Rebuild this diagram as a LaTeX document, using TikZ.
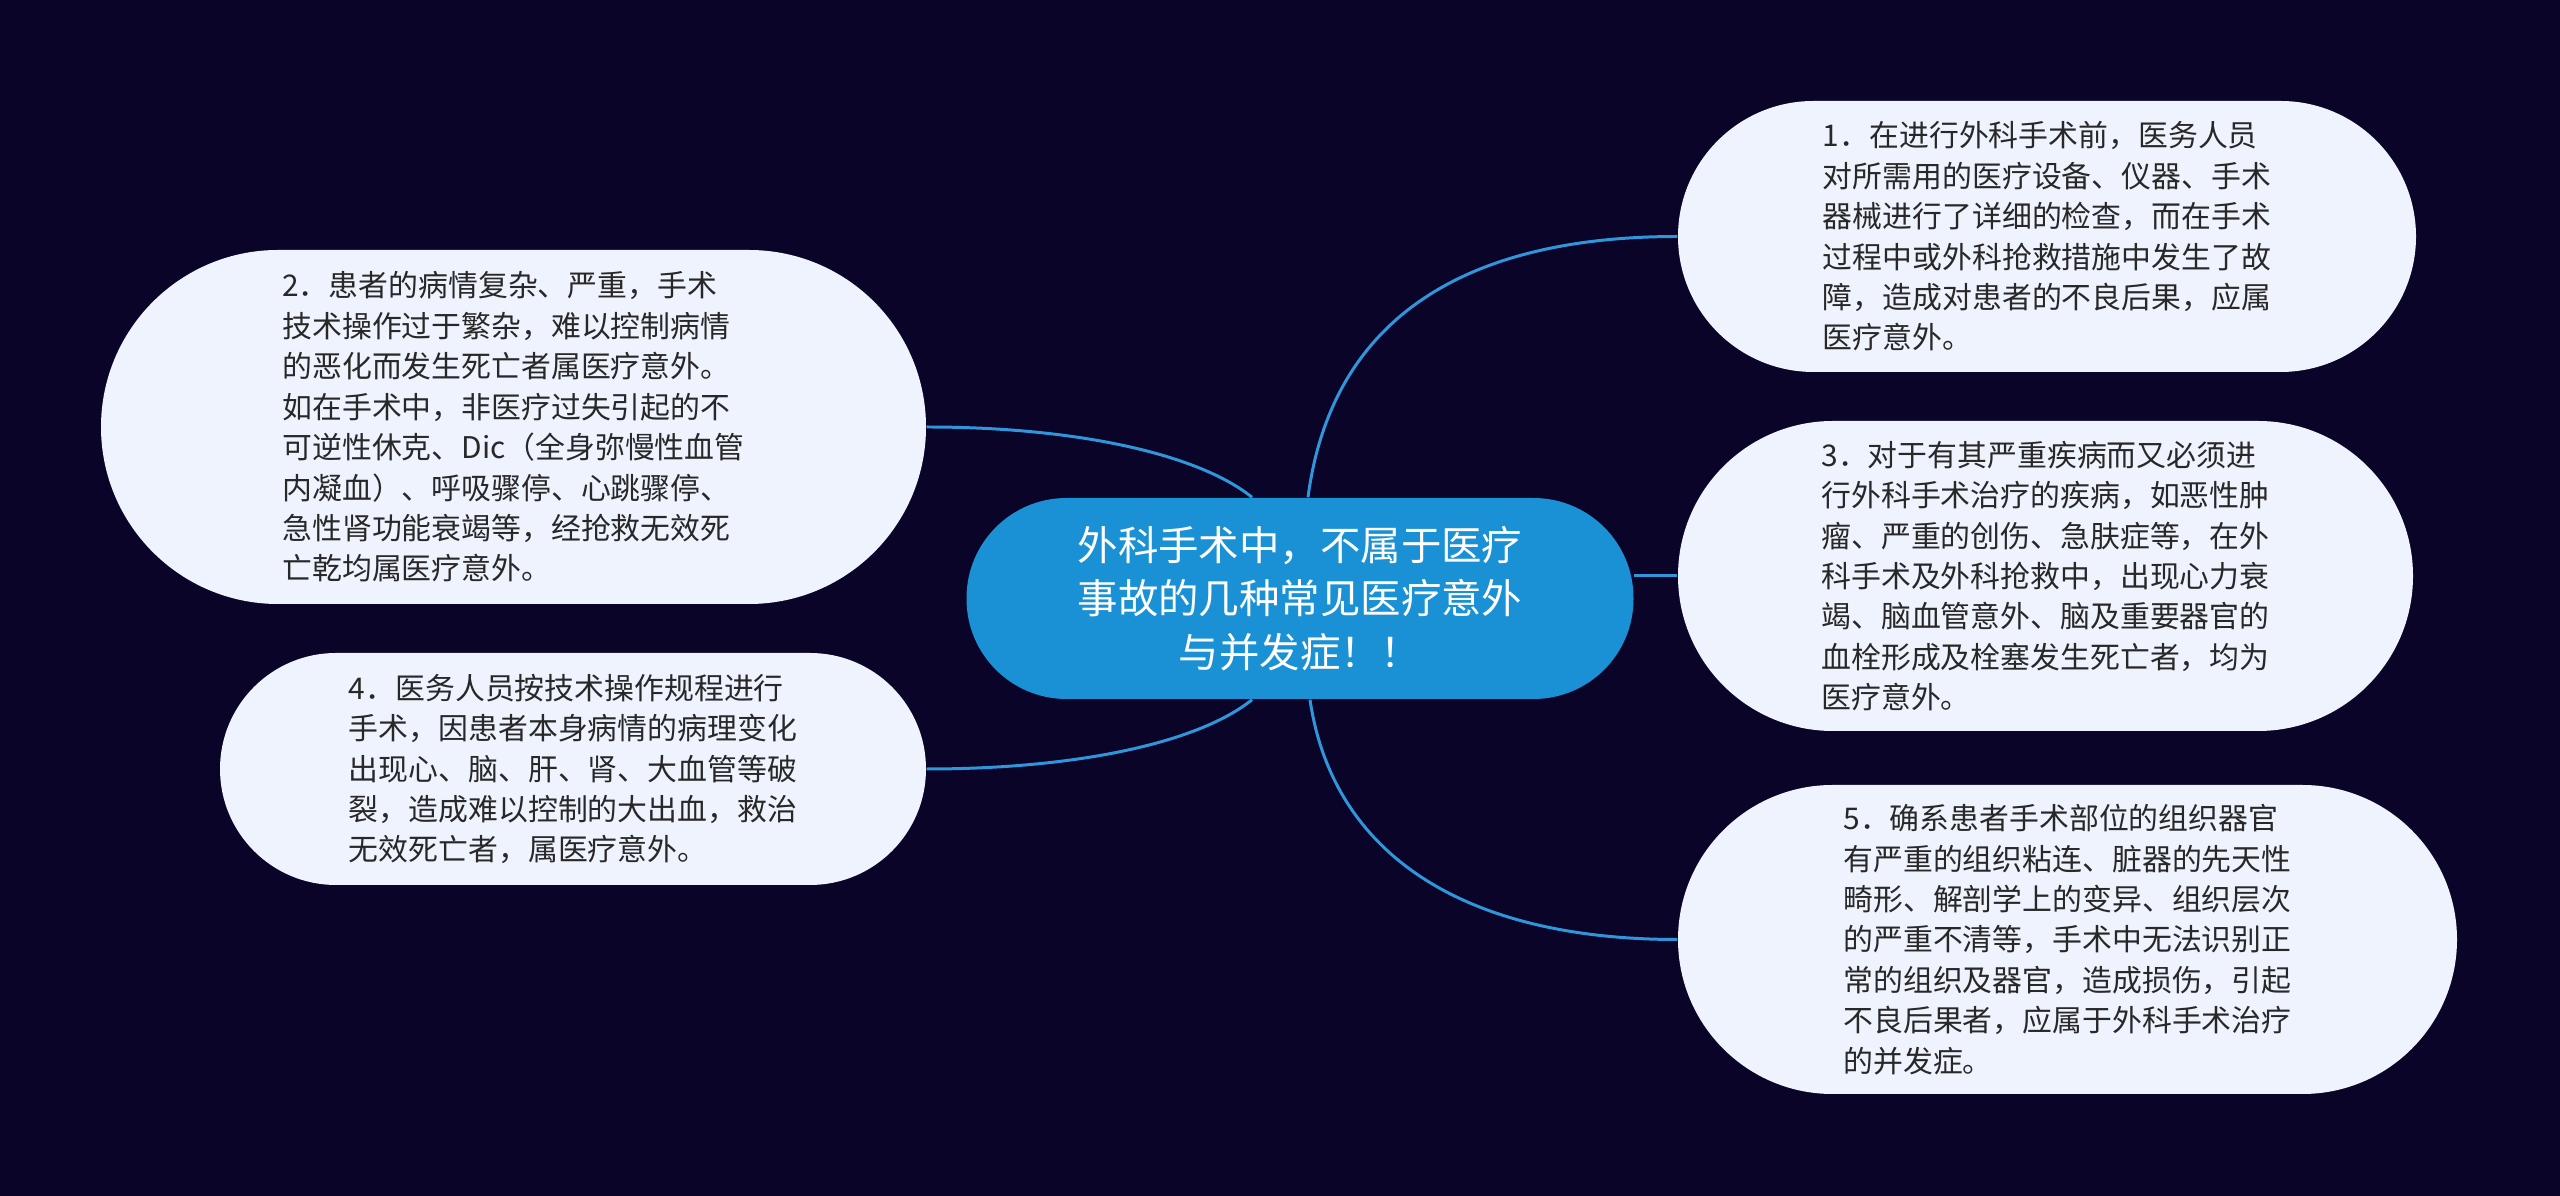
\documentclass[tikz,border=0pt]{standalone}
\usepackage{fontspec}
\newfontfamily\cjk{Noto Sans CJK SC}
\usetikzlibrary{positioning}
\definecolor{bgnavy}{RGB}{10,5,40}
\definecolor{rootblue}{RGB}{27,145,213}
\definecolor{linkblue}{RGB}{48,150,220}
\definecolor{leaffill}{RGB}{238,243,253}
\definecolor{leaftext}{RGB}{40,40,40}

\begin{document}
\begin{tikzpicture}[
  root/.style={rectangle, rounded corners=1.0cm, fill=rootblue, text=white,
               minimum width=6.67cm, minimum height=2.01cm, align=center,
               inner sep=0pt, font=\cjk\fontsize{11.5pt}{15.3pt}\selectfont},
  leaf/.style={rectangle, fill=leaffill, text=leaftext, align=left,
               inner sep=0pt, font=\cjk\fontsize{8.5pt}{11.5pt}\selectfont},
  link/.style={draw=linkblue, line width=0.85pt}
]
  % background and page size
  \fill[bgnavy] (0,0) rectangle (25.6,-11.96);
  \useasboundingbox (0,0) rectangle (25.6,-11.96);

  % central topic
  \node[root] (root) at (13.0,-5.985)
    {外科手术中，不属于医疗\\事故的几种常见医疗意外\\与并发症！！};

  % right branches
  \node[leaf, minimum width=7.38cm, minimum height=2.71cm,
        rounded corners=1.355cm] (tip1) at (20.47,-2.365) {
    1．在进行外科手术前，医务人员\\
    对所需用的医疗设备、仪器、手术\\
    器械进行了详细的检查，而在手术\\
    过程中或外科抢救措施中发生了故\\
    障，造成对患者的不良后果，应属\\
    医疗意外。};
  \node[leaf, minimum width=7.35cm, minimum height=3.10cm,
        rounded corners=1.55cm] (tip3) at (20.455,-5.76) {
    3．对于有其严重疾病而又必须进\\
    行外科手术治疗的疾病，如恶性肿\\
    瘤、严重的创伤、急肤症等，在外\\
    科手术及外科抢救中，出现心力衰\\
    竭、脑血管意外、脑及重要器官的\\
    血栓形成及栓塞发生死亡者，均为\\
    医疗意外。};
  \node[leaf, minimum width=7.79cm, minimum height=3.09cm,
        rounded corners=1.545cm] (tip5) at (20.675,-9.395) {
    5．确系患者手术部位的组织器官\\
    有严重的组织粘连、脏器的先天性\\
    畸形、解剖学上的变异、组织层次\\
    的严重不清等，手术中无法识别正\\
    常的组织及器官，造成损伤，引起\\
    不良后果者，应属于外科手术治疗\\
    的并发症。};

  % left branches
  \node[leaf, minimum width=8.25cm, minimum height=3.54cm,
        rounded corners=1.77cm] (tip2) at (5.135,-4.27) {
    2．患者的病情复杂、严重，手术\\
    技术操作过于繁杂，难以控制病情\\
    的恶化而发生死亡者属医疗意外。\\
    如在手术中，非医疗过失引起的不\\
    可逆性休克、Dic（全身弥慢性血管\\
    内凝血）、呼吸骤停、心跳骤停、\\
    急性肾功能衰竭等，经抢救无效死\\
    亡乾均属医疗意外。};
  \node[leaf, minimum width=7.06cm, minimum height=2.32cm,
        rounded corners=1.16cm] (tip4) at (5.73,-7.69) {
    4．医务人员按技术操作规程进行\\
    手术，因患者本身病情的病理变化\\
    出现心、脑、肝、肾、大血管等破\\
    裂，造成难以控制的大出血，救治\\
    无效死亡者，属医疗意外。};

  % connectors
  \draw[link] ([xshift=0.08cm]root.north) .. controls +(0.22,1.67) and +(-2.28,0) .. (tip1.west);
  \draw[link] (tip3.west) -- (tip3.west -| root.east);
  \draw[link] ([xshift=0.1cm]root.south) .. controls +(0.22,-1.5) and +(-2.2,0) .. (tip5.west);
  \draw[link] (tip2.east) .. controls +(1.54,0) and +(-0.52,0.42) .. ([xshift=-0.48cm]root.north);
  \draw[link] (tip4.east) .. controls +(1.54,0) and +(-0.52,-0.42) .. ([xshift=-0.48cm]root.south);
\end{tikzpicture}
\end{document}
